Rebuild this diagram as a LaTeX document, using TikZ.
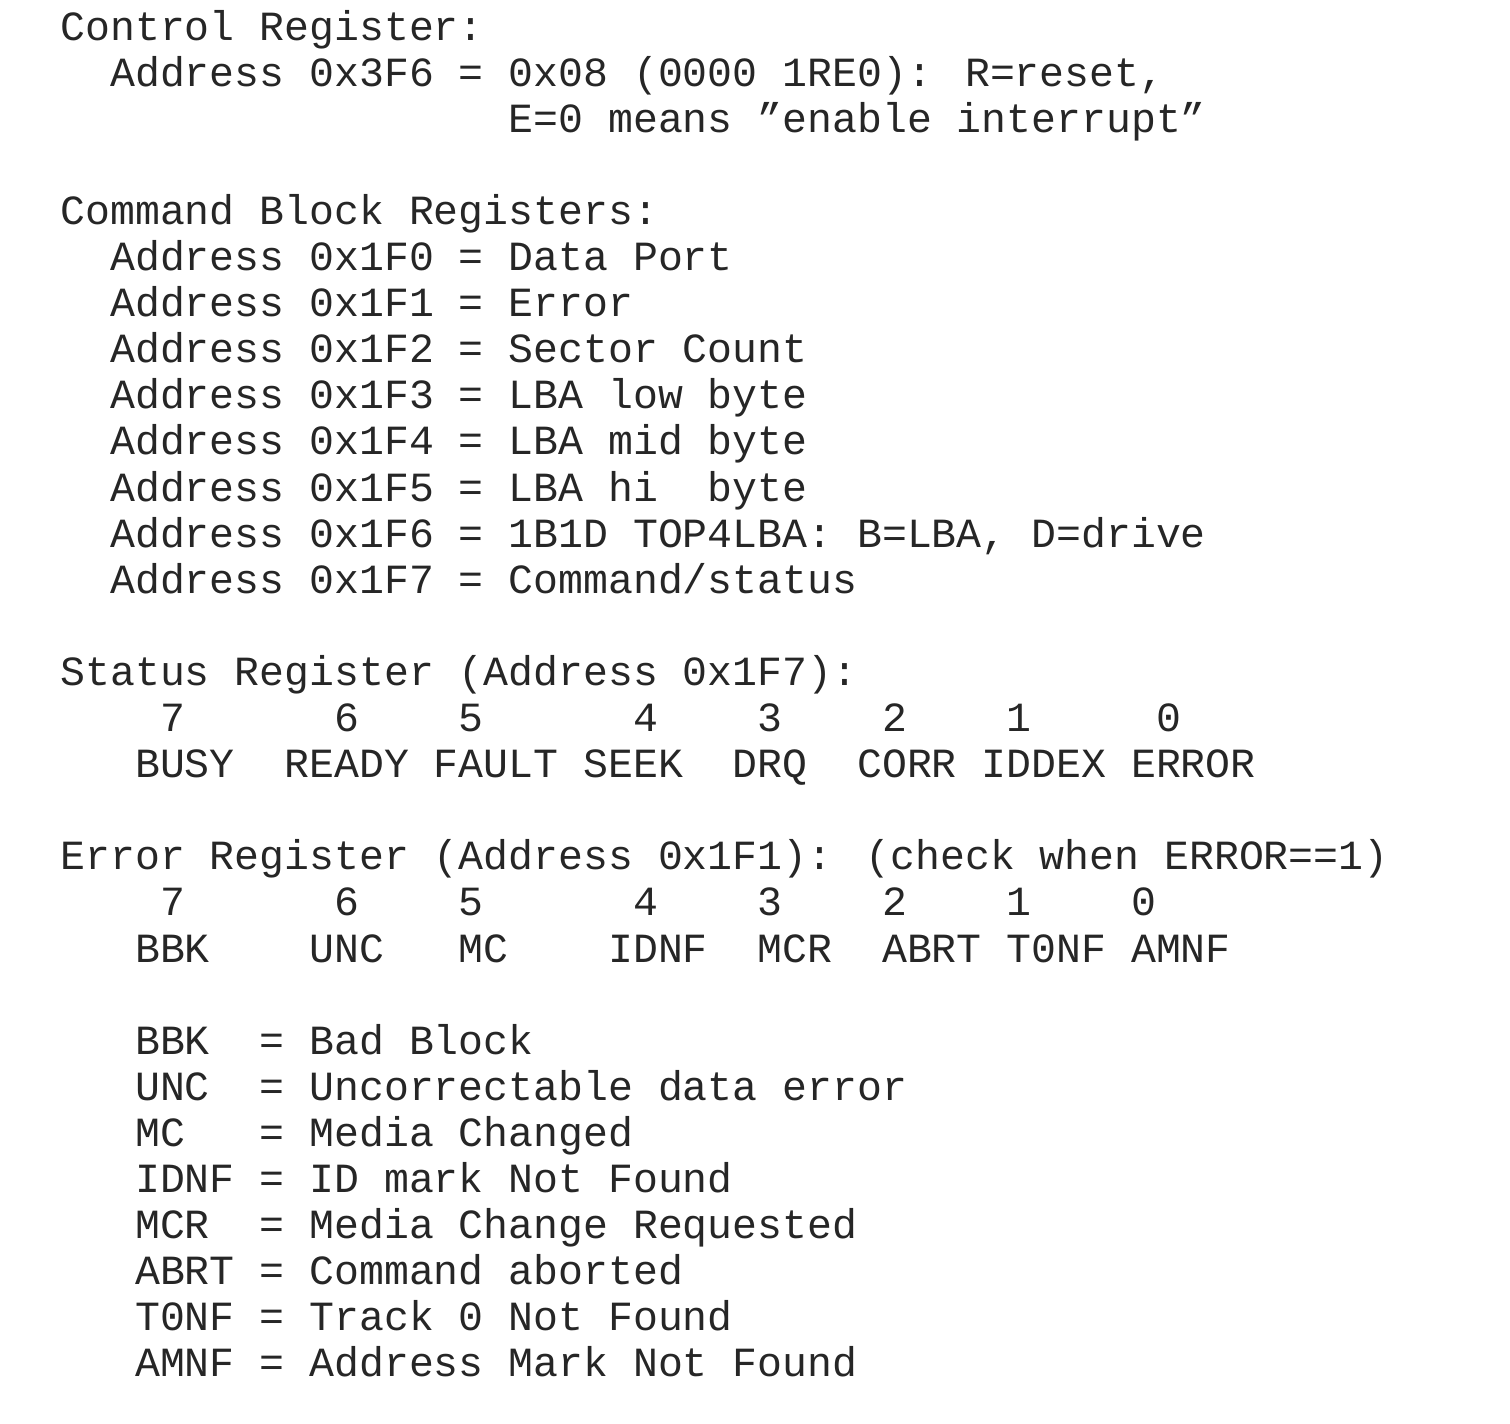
\documentclass[tikz,border=0pt]{standalone}
\usepackage{fontspec}
\setmainfont[WordSpace={1,0,0}]{Liberation Mono}
\usetikzlibrary{positioning}
\definecolor{txt}{gray}{0.15}

\begin{document}
\begin{tikzpicture}[x=0.5pt,y=-0.5pt,
	ln/.style={anchor=base west,inner sep=0pt,text=txt,
		font=\fontsize{20.75pt}{23pt}\selectfont}]
	\useasboundingbox (0,0) rectangle (1510,1424);
	\def\cw{24.9}\def\lh{46.1}
	% control register
	\node [ln] (ctl) at (60,40) {Control Register:};
	\node [ln] (c1) at (60+2*\cw,40+1*\lh) {Address 0x3F6 = 0x08 (0000 1RE0): R=reset,};
	\node [ln] (c2) at (60+18*\cw,40+2*\lh) {E=0 means "enable interrupt"};
	% command block
	\node [ln] (cmd) at (60,40+4*\lh) {Command Block Registers:};
	\node [ln] (a0) at (60+2*\cw,40+5*\lh) {Address 0x1F0 = Data Port};
	\node [ln] (a1) at (60+2*\cw,40+6*\lh) {Address 0x1F1 = Error};
	\node [ln] (a2) at (60+2*\cw,40+7*\lh) {Address 0x1F2 = Sector Count};
	\node [ln] (a3) at (60+2*\cw,40+8*\lh) {Address 0x1F3 = LBA low byte};
	\node [ln] (a4) at (60+2*\cw,40+9*\lh) {Address 0x1F4 = LBA mid byte};
	\node [ln] (a5) at (60+2*\cw,40+10*\lh) {Address 0x1F5 = LBA hi~ byte};
	\node [ln] (a6) at (60+2*\cw,40+11*\lh) {Address 0x1F6 = 1B1D TOP4LBA: B=LBA, D=drive};
	\node [ln] (a7) at (60+2*\cw,40+12*\lh) {Address 0x1F7 = Command/status};
	% status register
	\node [ln] (st) at (60,40+14*\lh) {Status Register (Address 0x1F7):};
	\node [ln] (sb) at (60+4*\cw,40+15*\lh) {7~~~~~~6~~~~5~~~~~~4~~~~3~~~~2~~~~1~~~~~0};
	\node [ln] (sn) at (60+3*\cw,40+16*\lh) {BUSY~~READY FAULT SEEK~~DRQ~~CORR IDDEX ERROR};
	% error register
	\node [ln] (er) at (60,40+18*\lh) {Error Register (Address 0x1F1): (check when ERROR==1)};
	\node [ln] (eb) at (60+4*\cw,40+19*\lh) {7~~~~~~6~~~~5~~~~~~4~~~~3~~~~2~~~~1~~~~0};
	\node [ln] (en) at (60+3*\cw,40+20*\lh) {BBK~~~~UNC~~~MC~~~~IDNF~~MCR~~ABRT T0NF AMNF};
	% legend
	\node [ln] (d0) at (60+3*\cw,40+22*\lh) {BBK~~= Bad Block};
	\node [ln] (d1) at (60+3*\cw,40+23*\lh) {UNC~~= Uncorrectable data error};
	\node [ln] (d2) at (60+3*\cw,40+24*\lh) {MC~~~= Media Changed};
	\node [ln] (d3) at (60+3*\cw,40+25*\lh) {IDNF = ID mark Not Found};
	\node [ln] (d4) at (60+3*\cw,40+26*\lh) {MCR~~= Media Change Requested};
	\node [ln] (d5) at (60+3*\cw,40+27*\lh) {ABRT = Command aborted};
	\node [ln] (d6) at (60+3*\cw,40+28*\lh) {T0NF = Track 0 Not Found};
	\node [ln] (d7) at (60+3*\cw,40+29*\lh) {AMNF = Address Mark Not Found};
\end{tikzpicture}
\end{document}
